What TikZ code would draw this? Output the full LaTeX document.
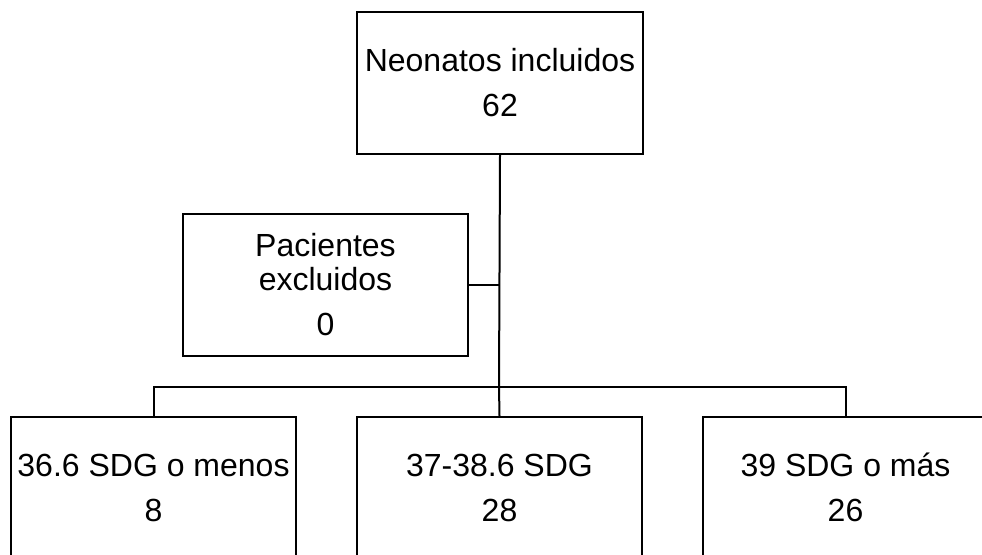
\documentclass[tikz,border=0pt]{standalone}
\usepackage{fontspec}
\setmainfont{Liberation Sans}
\begin{document}
\begin{tikzpicture}[x=1pt,y=-1pt,
  every node/.style={font=\fontsize{32}{34}\selectfont},
  box/.style={draw=black,line width=2pt,minimum width=285pt,minimum height=142pt,inner sep=0pt,align=center},
  link/.style={draw=black,line width=2pt}]
\clip (0,0) rectangle (982,554);
\fill[white] (0,0) rectangle (982,554);
\node[box,minimum width=286pt] (top) at (500,83) {Neonatos incluidos\\[11pt]62};
\node[box] (excl) at (325.5,285) {Pacientes\\excluidos\\[11pt]0};
\node[box] (b1) at (153.5,488) {36.6 SDG o menos\\[11pt]8};
\node[box] (b2) at (499.5,488) {37-38.6 SDG\\[11pt]28};
\node[box] (b3) at (845.5,488) {39 SDG o m\smash{á}s\\[11pt]26};
\coordinate (hub) at (499,387);
\draw[link] (top.south) -- (hub);
\draw[link] (excl.east) -- (excl.east -| hub);
\draw[link] (b1.north) |- (hub) -| (b3.north);
\draw[link] (hub) -- (b2.north);
\end{tikzpicture}
\end{document}
